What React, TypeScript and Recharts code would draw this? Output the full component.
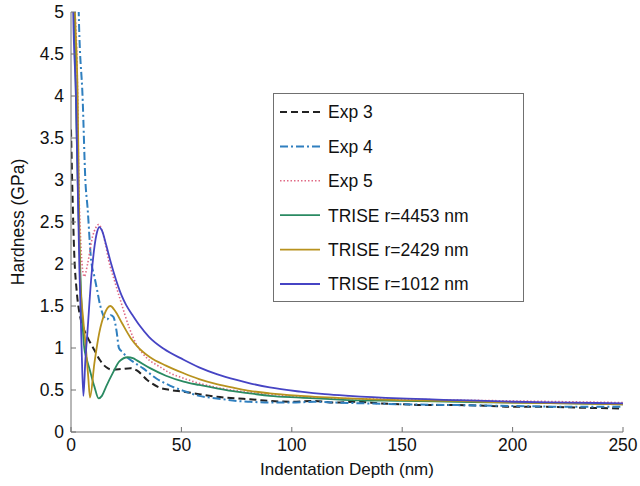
import React from "react";
import { LineChart, Line, XAxis, YAxis, Legend } from "recharts";

// axis ticks
const depthTicks = [0, 50, 100, 150, 200, 250];
const hardnessTicks = [0, 0.5, 1, 1.5, 2, 2.5, 3, 3.5, 4, 4.5, 5];

// Exp 3 (dashed black)
const exp3Depth = [0, 0.8, 1.5, 2.5, 3.8, 5.5, 8, 10.5, 13, 16, 19, 23, 27, 30, 34.5, 40, 45, 51, 58, 66, 75, 81, 90, 100, 110, 120, 130, 140, 150, 160, 175, 190, 200, 215, 230, 250];
const exp3Hardness = [3.6, 2.7, 2.1, 1.7, 1.42, 1.25, 1.1, 0.98, 0.86, 0.77, 0.74, 0.75, 0.76, 0.73, 0.62, 0.53, 0.5, 0.48, 0.45, 0.42, 0.4, 0.39, 0.37, 0.36, 0.37, 0.35, 0.36, 0.34, 0.33, 0.32, 0.32, 0.31, 0.3, 0.3, 0.29, 0.28];

// Exp 4 (dash-dot blue)
const exp4Depth = [3, 3.5, 5.3, 6.5, 7.5, 9.1, 10.6, 11.6, 13.1, 14.6, 16.3, 18, 19.2, 20.7, 21.7, 23.4, 25, 28.5, 32.5, 38.5, 45, 51, 58, 66, 75, 81, 90, 100, 110, 120, 135, 150, 175, 200, 225, 250];
const exp4Hardness = [6, 5, 3.95, 3.0, 2.67, 2.05, 1.85, 1.72, 1.52, 1.39, 1.34, 1.39, 1.37, 1.19, 1.0, 0.95, 0.9, 0.83, 0.76, 0.64, 0.55, 0.49, 0.43, 0.4, 0.37, 0.36, 0.35, 0.35, 0.36, 0.35, 0.34, 0.33, 0.32, 0.31, 0.3, 0.3];

// Exp 5 (dotted pink)
const exp5Depth = [1.8, 3.0, 3.5, 4.2, 5.0, 6.0, 7.5, 9.8, 11.2, 12.5, 14, 15.5, 17, 19.6, 22.6, 26.4, 29.5, 34, 40, 45, 51, 58, 66, 75, 81, 90, 104, 120, 150, 175, 200, 225, 250];
const exp5Hardness = [5, 4.0, 3.0, 2.4, 2.0, 1.85, 2.0, 2.33, 2.43, 2.47, 2.4, 2.25, 2.05, 1.81, 1.55, 1.24, 1.05, 0.89, 0.78, 0.7, 0.64, 0.58, 0.53, 0.49, 0.47, 0.45, 0.42, 0.4, 0.39, 0.38, 0.37, 0.36, 0.35];

// TRISE r=4453 nm
const r4453Depth = [1.5, 2.5, 3.5, 4.5, 5.2, 6, 7, 8.3, 10.6, 12.5, 14, 15.9, 18.9, 21.9, 25.7, 28, 30, 35.8, 43, 51, 58, 66, 75, 81, 90, 104, 126, 149, 175, 200, 225, 250];
const r4453Hardness = [5, 3.6, 2.5, 1.7, 1.3, 1.0, 0.88, 0.76, 0.54, 0.4, 0.43, 0.54, 0.7, 0.84, 0.89, 0.88, 0.85, 0.76, 0.67, 0.6, 0.56, 0.52, 0.48, 0.46, 0.43, 0.41, 0.38, 0.37, 0.36, 0.35, 0.34, 0.33];

// TRISE r=2429 nm
const r2429Depth = [1.0, 1.8, 3.0, 3.5, 4.1, 5.5, 6.8, 7.8, 8.6, 10.6, 12.8, 15.1, 17.8, 20, 23, 27, 30, 35.8, 43, 51, 58, 66, 75, 81, 90, 104, 126, 149, 175, 200, 225, 250];
const r2429Hardness = [6, 5, 4.0, 3.0, 1.85, 1.35, 0.98, 0.66, 0.41, 0.82, 1.18, 1.4, 1.5, 1.44, 1.3, 1.12, 1.02, 0.89, 0.79, 0.7, 0.63, 0.57, 0.52, 0.49, 0.46, 0.43, 0.4, 0.38, 0.37, 0.35, 0.34, 0.33];

// TRISE r=1012 nm
const r1012Depth = [0.5, 1.0, 2.3, 3.0, 3.8, 4.7, 5.6, 6.5, 7.5, 9.1, 10.6, 11.8, 12.8, 14, 16, 18, 20.4, 23, 25, 27.9, 31, 35.4, 42, 51, 58, 66, 75, 81, 90, 104, 115, 126, 149, 175, 200, 225, 250];
const r1012Hardness = [6, 5, 3.95, 3.0, 1.95, 1.1, 0.43, 0.85, 1.21, 1.81, 2.2, 2.38, 2.44, 2.4, 2.22, 2.02, 1.81, 1.62, 1.51, 1.39, 1.27, 1.13, 0.99, 0.86, 0.77, 0.69, 0.62, 0.58, 0.53, 0.48, 0.45, 0.43, 0.4, 0.38, 0.36, 0.35, 0.34];

const toPoints = (depth: number[], hardness: number[]) =>
  depth.map((d, i) => ({ depth: d, hardness: hardness[i] }));

const series = [
  { name: "Exp 3", data: toPoints(exp3Depth, exp3Hardness), color: "#222222", dash: "7 4", width: 2 },
  { name: "Exp 4", data: toPoints(exp4Depth, exp4Hardness), color: "#2f7fbf", dash: "8 3 2 3", width: 2 },
  { name: "Exp 5", data: toPoints(exp5Depth, exp5Hardness), color: "#e06a85", dash: "1.5 2", width: 1.6 },
  { name: "TRISE r=4453 nm", data: toPoints(r4453Depth, r4453Hardness), color: "#2a8a62", dash: undefined, width: 1.8 },
  { name: "TRISE r=2429 nm", data: toPoints(r2429Depth, r2429Hardness), color: "#b8921e", dash: undefined, width: 1.8 },
  { name: "TRISE r=1012 nm", data: toPoints(r1012Depth, r1012Hardness), color: "#4644c4", dash: undefined, width: 1.8 },
];

const FONT = '"Liberation Sans", Arial, sans-serif';
const AXIS = "#707070";

function LegendBox() {
  return (
    <svg width={252} height={210} style={{ display: "block" }}>
      <rect x={0.5} y={0.5} width={250} height={208} fill="#fff" stroke={AXIS} strokeWidth={1} />
      {series.map((s, i) => {
        const y = 19 + i * 34.4;
        return (
          <g key={s.name}>
            <line x1={7} x2={47} y1={y} y2={y} stroke={s.color} strokeWidth={s.width} strokeDasharray={s.dash} />
            <text x={55} y={y} dy="0.36em" fontSize={17.5} fontFamily={FONT} fill="#111">
              {s.name}
            </text>
          </g>
        );
      })}
    </svg>
  );
}

export default function App() {
  return (
    <div style={{ position: "absolute", left: 0, top: 0, width: 640, height: 486, background: "#fff" }}>
      <LineChart
        width={640}
        height={486}
        margin={{ top: 12, right: 17, bottom: 0, left: 0 }}
        style={{ fontFamily: FONT }}
      >
        <XAxis
          dataKey="depth"
          type="number"
          domain={[0, 250]}
          ticks={depthTicks}
          allowDataOverflow
          height={54}
          stroke={AXIS}
          tickSize={-5}
          tickMargin={12}
          tick={{ fill: "#111", fontSize: 17.5 }}
          label={{ value: "Indentation Depth (nm)", position: "insideBottom", offset: 11, fill: "#111", fontSize: 17 }}
        />
        <XAxis
          xAxisId="top"
          orientation="top"
          type="number"
          domain={[0, 250]}
          ticks={depthTicks}
          height={0}
          stroke={AXIS}
          tickSize={-5}
          tick={false}
        />
        <YAxis
          type="number"
          domain={[0, 5]}
          ticks={hardnessTicks}
          allowDataOverflow
          width={71}
          stroke={AXIS}
          tickSize={-5}
          tickMargin={12}
          tick={{ fill: "#111", fontSize: 17.5 }}
          label={{ value: "Hardness (GPa)", angle: -90, position: "insideLeft", offset: 18, fill: "#111", fontSize: 17.5, style: { textAnchor: "middle" } }}
        />
        <YAxis
          yAxisId="right"
          orientation="right"
          type="number"
          domain={[0, 5]}
          ticks={hardnessTicks}
          width={0}
          stroke={AXIS}
          tickSize={-5}
          tick={false}
        />
        {series.map((s) => (
          <Line
            key={s.name}
            data={s.data}
            dataKey="hardness"
            name={s.name}
            type="monotone"
            stroke={s.color}
            strokeWidth={s.width}
            strokeDasharray={s.dash}
            dot={false}
            activeDot={false}
            isAnimationActive={false}
          />
        ))}
        <Legend
          layout="horizontal"
          verticalAlign="middle"
          align="center"
          content={() => <LegendBox />}
          wrapperStyle={{ position: "absolute", left: 273, top: 93, width: 252, height: 210 }}
        />
      </LineChart>
    </div>
  );
}
